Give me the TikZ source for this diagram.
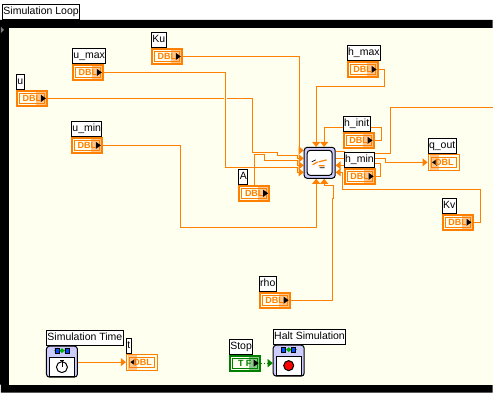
\documentclass[tikz,border=0pt]{standalone}
\usepackage{fontspec}
\setmainfont{Liberation Sans}
\usepackage{xcolor}
\usetikzlibrary{arrows.meta,backgrounds,positioning}
\definecolor{wire}{HTML}{FF8000}
\definecolor{cream}{HTML}{FFFFF0}
\definecolor{lav}{HTML}{CCCCFF}
\definecolor{bool}{HTML}{008000}

\begin{document}
\begin{tikzpicture}[x=1pt, y=-1pt,
  lbl/.style={draw, fill=white, line width=1pt, inner xsep=1pt, inner ysep=0pt, minimum height=14.5pt, anchor=south west, font=\fontsize{10.5}{12}\selectfont, text height=8pt, text depth=2.5pt},
  ctrl/.style={draw=#1, text=#1, line width=2pt, fill=cream, inner sep=0pt, minimum width=30pt, minimum height=15pt, font=\bfseries\fontsize{9}{9}\selectfont,
    path picture={
      \fill[#1!45] ([xshift=-11pt]path picture bounding box.north east) rectangle (path picture bounding box.south east);
      \draw[#1, line width=1pt] ([xshift=2.5pt,yshift=-2.5pt]path picture bounding box.north west) rectangle ([xshift=-2.5pt,yshift=2.5pt]path picture bounding box.south east);
      \fill[black] ([xshift=-6pt,yshift=3.5pt]path picture bounding box.east) -- ([xshift=-1pt]path picture bounding box.east) -- ([xshift=-6pt,yshift=-3.5pt]path picture bounding box.east) -- cycle;
    }},
  ctrl/.default=wire,
  indic/.style={draw=wire, text=wire, line width=1pt, fill=cream, inner sep=0pt, minimum width=31pt, minimum height=16pt, font=\bfseries\fontsize{9}{9}\selectfont,
    path picture={
      \fill[wire!45] ([xshift=2pt]path picture bounding box.north west) rectangle ([xshift=11pt]path picture bounding box.south west);
      \draw[wire, line width=1pt] ([xshift=3pt,yshift=-3pt]path picture bounding box.north west) rectangle ([xshift=-3pt,yshift=3pt]path picture bounding box.south east);
      \fill[black] ([xshift=9pt,yshift=3.5pt]path picture bounding box.west) -- ([xshift=4pt]path picture bounding box.west) -- ([xshift=9pt,yshift=-3.5pt]path picture bounding box.west) -- cycle;
    }},
  vi/.style={draw, fill=lav, line width=1pt, rounded corners=3pt, inner sep=0pt, minimum width=31pt, minimum height=31pt},
  wirel/.style={draw=wire, line width=1pt},
  ptr/.style={wirel, -{Triangle[width=8pt,length=5pt]}},
  bridge/.style={wirel, preaction={draw=cream, line width=3pt}}
]
% frame of the loop
\begin{scope}[on background layer]
\fill[black] (0,20) rectangle (493,355) (1,355) rectangle (493,393) (0,355) rectangle (9,385);
\fill[cream] (9,28) rectangle (493,385);
\fill[gray] (1,27) -- (4,30) -- (1,33) -- cycle;
\end{scope}
\node[lbl] (loop) at (2,20) {Simulation Loop};

% terminals
\node[ctrl] (Ku) at (167,56.5) {DBL};
\node[ctrl] (umax) at (88,72.5) {DBL};
\node[ctrl] (u) at (32,98.5) {DBL};
\node[ctrl] (umin) at (87,145.5) {DBL};
\node[ctrl] (A) at (254.5,193.5) {DBL};
\node[ctrl] (hmax) at (363,69.5) {DBL};
\node[ctrl] (hinit) at (359,140.5) {DBL};
\node[ctrl] (hmin) at (360,176.5) {DBL};
\node[ctrl] (Kv) at (458,222.5) {DBL};
\node[ctrl] (rho) at (275,300.5) {DBL};
\node[ctrl=bool] (stop) at (245,363.5) {T F};
\node[indic] (qout) at (444,162.5) {\,DBL};
\node[indic] (t) at (142,362.5) {\,DBL};

% labels
\node[lbl] (KuL) at (Ku.north west) {Ku};
\node[lbl] (umaxL) at (umax.north west) {u\_max};
\node[lbl] (uL) at (u.north west) {u};
\node[lbl] (uminL) at (umin.north west) {u\_min};
\node[lbl] (AL) at (A.north west) {A};
\node[lbl] (hmaxL) at (hmax.north west) {h\_max};
\node[lbl] (hinitL) at (hinit.north west) {h\_init};
\node[lbl] (hminL) at (hmin.north west) {h\_min};
\node[lbl] (KvL) at (Kv.north west) {Kv};
\node[lbl] (rhoL) at (rho.north west) {rho};
\node[lbl] (stopL) at (stop.north west) {Stop};
\node[lbl] (qoutL) at (qout.north west) {q\_out};
\node[lbl] (tL) at (t.north west) {t};

% subVIs
\node[vi] (hub) at (320,163) {};
\node[draw, fill=white, line width=1pt, rounded corners=3pt, minimum width=25pt, minimum height=25pt, inner sep=0pt] (hubin) at (hub) {};
\draw[wire, line width=1.2pt] (313,165) -- (318,162) (319,166) -- (325,166) (319,162) -- (327,160);
\draw[black, line width=0.7pt] (312,162) -- (316,160) (320,168) -- (325,168);
\node[vi] (simt) at (62,362) {};
\node[lbl] (simtL) at (simt.north west) {Simulation Time};
\node[draw, fill=white, line width=1pt, minimum width=25pt, minimum height=19pt, inner sep=0pt] (simtin) at (62,367) {};
\node[draw, fill=white, circle, line width=1pt, minimum size=11pt, inner sep=0pt] (watch) at (62,367.5) {};
\draw[line width=0.8pt] (watch.center) -- (watch.north) (60,360.5) -- (64,360.5);
\node[vi] (halt) at (289,361) {};
\node[lbl] (haltL) at (halt.north west) {Halt Simulation};
\node[draw, fill=white, line width=1pt, minimum width=25pt, minimum height=19pt, inner sep=0pt] (haltin) at (289,366) {};
\node[draw, fill=red, circle, line width=1pt, minimum size=10pt, inner sep=0pt] (haltbtn) at (haltin) {};
\foreach \vic/\vix/\viy in {simt/62/351, halt/289/350} {
  \draw[bool!70!white, line width=1pt] (\vix-8,\viy) -- (\vix+8,\viy);
  \fill[blue!70!cyan, draw=black, line width=0.5pt] (\vix-7,\viy-2.5) rectangle (\vix-3,\viy+2.5) (\vix+3,\viy-2.5) rectangle (\vix+7,\viy+2.5);
  \fill[green!70!black] (\vix,\viy-2.5) -- (\vix+2.5,\viy) -- (\vix,\viy+2.5) -- (\vix-2.5,\viy) -- cycle;
}

% hub ports
\coordinate (inKu) at (304,150.5);
\coordinate (inu) at (304,158.5);
\coordinate (inA) at (304,165.5);
\coordinate (inmax) at (304,172.5);
\coordinate (tophmax) at (316.5,147);
\coordinate (tophinit) at (324.5,147);
\coordinate (botumin) at (316.5,179);
\coordinate (botrho) at (324.5,179);
\coordinate (rhmin) at (336,165.5);
\coordinate (rKv) at (336,172.5);
\coordinate (umaxend) at (297.5,167.5);

% wires, behind the nodes
\begin{scope}[on background layer]
\draw[ptr] (Ku.east) -- (299.5,56.5) -- (299.5,150.5) -- (inKu);
\draw[ptr] (u.east) -- (252.5,98.5) -- (252.5,152.5) -- (277.5,152.5) -- (277.5,155.5) -- (297.5,155.5) -- (297.5,158.5) -- (inu);
\draw[bridge] (umax.east) -- (225.5,72.5) -- (225.5,167.5) -- (umaxend);
\draw[ptr] (umaxend) -- (297.5,172.5) -- (inmax);
\draw[ptr] (A.north) -- (254.5,154.5) -- (264.5,154.5) -- (264.5,160.5) -- (297.5,160.5) -- (297.5,165.5) -- (inA);
\draw[ptr] (umin.east) -- (180.5,145.5) -- (180.5,227.5) -- (316.5,227.5) -- (botumin);
\draw[ptr] (rho.east) -- (332.5,300.5) -- (332.5,198.5) -- (333.5,198.5) -- (333.5,185.5) -- (324.5,185.5) -- (botrho);
\draw[ptr] (hmax.east) -- (384.5,69.5) -- (384.5,86.5) -- (316.5,86.5) -- (tophmax);
\draw[ptr] (hinit.east) -- (381.5,140.5) -- (381.5,127.5) -- (324.5,127.5) -- (tophinit);
\draw[ptr] (hmin.east) -- (380.5,176.5) -- (380.5,163.5) -- (360.5,163.5) -- (360.5,165.5) -- (rhmin);
\draw[ptr] (Kv.east) -- (480.5,222.5) -- (480.5,189.5) -- (342.5,189.5) -- (342.5,172.5) -- (rKv);
\draw[wirel] (hub.east |- 0,151.5) -- (344.5,151.5) -- (344.5,153.5) -- (390.5,153.5) -- (390.5,107.5) -- (493,107.5);
\draw[ptr] (hub.east |- 0,158.5) -- (385.5,158.5) -- (385.5,162.5) -- (qout.west);
\draw[ptr] (simt.east |- t.west) -- (t.west);
\draw[bool, line width=1pt, dotted, -{Triangle[width=8pt,length=5pt]}] (stop.east) -- (halt.west |- stop.east);
\end{scope}
\useasboundingbox (0,0) rectangle (493,400);
\end{tikzpicture}
\end{document}
